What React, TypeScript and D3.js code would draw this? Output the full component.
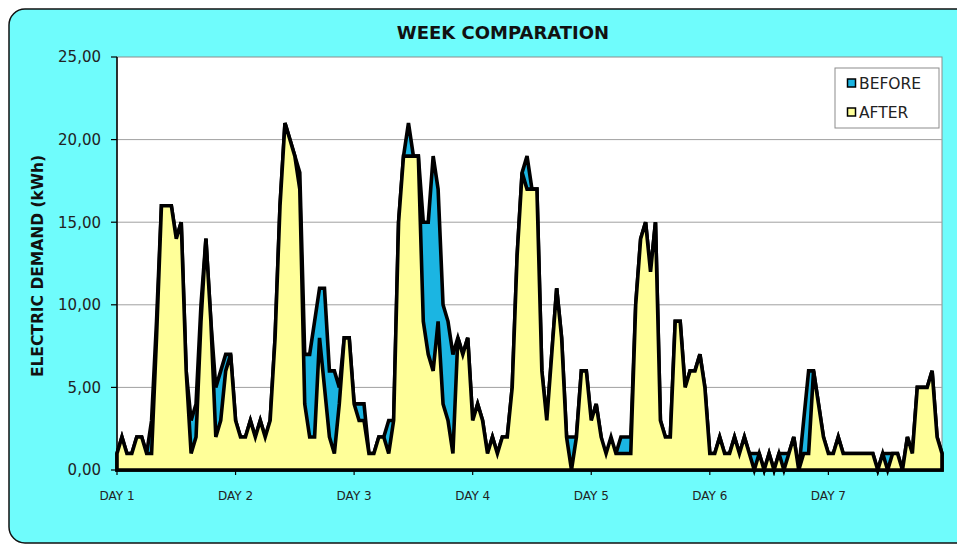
import { area, format, scaleLinear } from 'd3'

const dayLabels = ['DAY 1', 'DAY 2', 'DAY 3', 'DAY 4', 'DAY 5', 'DAY 6', 'DAY 7']
const yTicks = [0, 5, 10, 15, 20, 25]

// hourly demand, 24 points per day
const before = [
  1, 2, 1, 1, 2, 2, 1, 3, 9, 16, 16, 16, 14, 15, 6, 3, 4, 10, 14, 9, 5, 6, 7, 7,
  3, 2, 2, 3, 2, 3, 2, 3, 8, 16, 21, 20, 19, 18, 7, 7, 9, 11, 11, 6, 6, 5, 8, 8,
  4, 4, 4, 1, 1, 2, 2, 3, 3, 15, 19, 21, 19, 19, 15, 15, 19, 17, 10, 9, 7, 8, 7, 8,
  3, 4, 3, 1, 2, 1, 2, 2, 5, 13, 18, 19, 17, 17, 6, 3, 7, 11, 8, 2, 2, 2, 6, 6,
  3, 4, 2, 0, 0, 1, 2, 2, 2, 10, 14, 15, 12, 15, 3, 2, 2, 9, 9, 5, 6, 6, 7, 5,
  1, 1, 2, 1, 1, 2, 1, 2, 1, 1, 1, 0, 1, 0, 1, 1, 1, 2, 0, 3, 6, 6, 4, 2,
  1, 1, 2, 1, 1, 1, 1, 1, 1, 1, 0, 1, 1, 1, 1, 0, 2, 1, 5, 5, 5, 6, 2, 1,
]

const after = [
  1, 2, 1, 1, 2, 2, 1, 1, 8, 16, 16, 16, 14, 15, 6, 1, 2, 9, 14, 9, 2, 3, 6, 7,
  3, 2, 2, 3, 2, 3, 2, 3, 8, 16, 21, 20, 19, 17, 4, 2, 2, 8, 5, 2, 1, 4, 8, 8,
  4, 3, 3, 1, 1, 2, 2, 1, 3, 15, 19, 19, 19, 19, 9, 7, 6, 9, 4, 3, 1, 8, 7, 8,
  3, 4, 3, 1, 2, 1, 2, 2, 5, 13, 18, 17, 17, 17, 6, 3, 7, 11, 8, 2, 0, 2, 6, 6,
  3, 4, 2, 1, 2, 1, 1, 1, 1, 10, 14, 15, 12, 15, 3, 2, 2, 9, 9, 5, 6, 6, 7, 5,
  1, 1, 2, 1, 1, 2, 1, 2, 1, 0, 1, 0, 1, 0, 1, 0, 1, 2, 0, 1, 1, 6, 4, 2,
  1, 1, 2, 1, 1, 1, 1, 1, 1, 1, 0, 1, 0, 1, 1, 0, 2, 1, 5, 5, 5, 6, 2, 1,
]

const font = '"DejaVu Sans", Verdana, sans-serif'

export default function App() {
  const width = 957
  const height = 544
  const left = 117
  const right = 942
  const top = 57
  const bottom = 470

  const x = scaleLinear().domain([0, before.length - 1]).range([left, right])
  const y = scaleLinear().domain([0, 25]).range([bottom, top])
  const fmt = (v: number) => format('.2f')(v).replace('.', ',')

  const makeArea = area<number>()
    .x((_, i) => x(i))
    .y0(y(0))
    .y1((d) => y(d))

  return (
    <div style={{ position: 'fixed', left: 0, top: 0, width, height, overflow: 'hidden', background: '#fff' }}>
      <svg width={width} height={height} viewBox={`0 0 ${width} ${height}`} style={{ display: 'block' }}>
        <rect x="9" y="9" width="990" height="534" rx="16" fill="#6ffcfc" stroke="#111" strokeWidth="1.5" />

        <text x="503" y="38.5" textAnchor="middle" fontFamily={font} fontWeight="bold" fontSize="18" fill="#111">
          WEEK COMPARATION
        </text>

        <rect x={left} y={top} width={right - left} height={bottom - top} fill="#fff" stroke="#8c8c8c" strokeWidth="1" />
        {yTicks.slice(1, -1).map((t) => (
          <line key={t} x1={left} x2={right} y1={y(t)} y2={y(t)} stroke="#a0a0a0" strokeWidth="1" />
        ))}

        <path d={makeArea(before) ?? ''} fill="#1bb5e2" stroke="#000" strokeWidth="3.6" strokeLinejoin="miter" />
        <path d={makeArea(after) ?? ''} fill="#ffff99" stroke="#000" strokeWidth="3.6" strokeLinejoin="miter" />

        <line x1={left} x2={left} y1={top} y2={bottom} stroke="#000" strokeWidth="1.5" />
        {yTicks.map((t) => (
          <g key={t}>
            <line x1={left - 6} x2={left} y1={y(t)} y2={y(t)} stroke="#000" strokeWidth="1.2" />
            <text x={left - 16} y={y(t)} dy="0.36em" textAnchor="end" fontFamily={font} fontSize="15" fill="#222">
              {fmt(t)}
            </text>
          </g>
        ))}

        <line x1={left} x2={right} y1={bottom} y2={bottom} stroke="#000" strokeWidth="1.5" />
        {dayLabels.map((d, i) => (
          <g key={d}>
            <line x1={x(i * 24)} x2={x(i * 24)} y1={bottom} y2={bottom + 5} stroke="#000" strokeWidth="1.2" />
            <text x={x(i * 24)} y={bottom + 30} textAnchor="middle" fontFamily={font} fontSize="12" fill="#222">
              {d}
            </text>
          </g>
        ))}

        <text
          transform={`translate(43, 266) rotate(-90)`}
          textAnchor="middle"
          fontFamily={font}
          fontWeight="bold"
          fontSize="15.5"
          fill="#111"
        >
          ELECTRIC DEMAND (kWh)
        </text>

        <rect x="835" y="68" width="104" height="60" fill="#fff" stroke="#8c8c8c" strokeWidth="1" />
        <rect x="847.5" y="79" width="8" height="8" fill="#1bb5e2" stroke="#000" strokeWidth="1.5" />
        <text x="859" y="88.5" fontFamily={font} fontSize="15.5" fill="#222">BEFORE</text>
        <rect x="847.5" y="108" width="8" height="8" fill="#ffff99" stroke="#000" strokeWidth="1.5" />
        <text x="859" y="117.5" fontFamily={font} fontSize="15.5" fill="#222">AFTER</text>
      </svg>
    </div>
  )
}
